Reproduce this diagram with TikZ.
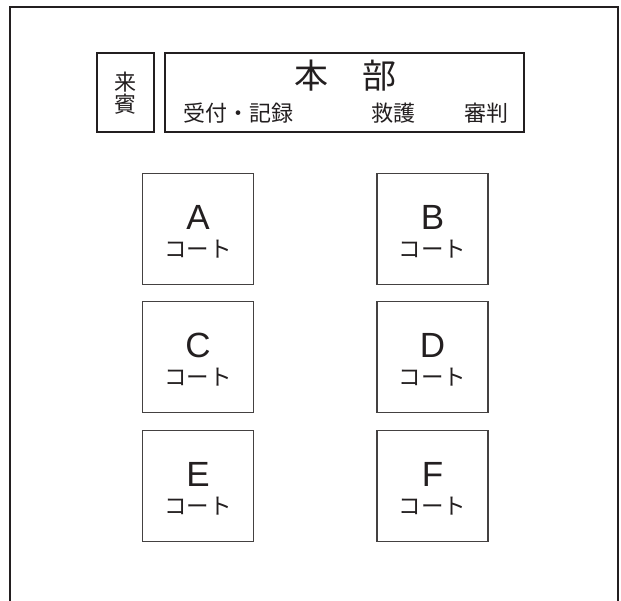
\documentclass[tikz,border=0pt]{standalone}
\usepackage{fontspec}
\setmainfont{Liberation Sans}
\newfontfamily\jp{Noto Sans CJK JP}
\definecolor{ink}{HTML}{231F20}
\begin{document}
\begin{tikzpicture}[x=1pt,y=-1pt,
  frame/.style={draw=ink,line width=2pt},
  hdbox/.style={draw=ink,line width=1.8pt,inner sep=0pt},
  courtbox/.style={draw=ink!85,line width=1.1pt,minimum width=111pt,minimum height=111pt,inner sep=0pt},
  letter/.style={inner sep=0pt,text=ink,font=\fontsize{35}{35}\selectfont},
  kata/.style={inner sep=0pt,text=ink,font=\jp\fontsize{22.5}{22.5}\selectfont},
  hdtext/.style={inner sep=0pt,text=ink,font=\jp\fontsize{22}{22}\selectfont},
  hdtitle/.style={inner sep=0pt,text=ink,font=\jp\fontsize{34}{34}\selectfont}]
\useasboundingbox (0,0) rectangle (621,601);
\coordinate (fbl) at (9.5,601);
\coordinate (ftl) at (9.5,7);
\coordinate (ftr) at (618,7);
\coordinate (fbr) at (618,601);
\draw[frame] (fbl) -- (ftl) -- (ftr) -- (fbr);
% header boxes
\node[hdbox,minimum width=57pt,minimum height=79pt] (guest) at (125.5,92.5) {};
\node[hdbox,minimum width=359pt,minimum height=79pt] (hq) at (344.5,92.5) {};
\node[hdtext,align=center,font=\jp\fontsize{22}{22}\selectfont] (guestlbl) at (125.5,93) {来\\賓};
\node[hdtitle] (hqtitle) at (345,75.5) {本　部};
\node[hdtext] (reception) at (238.5,113) {受付・記録};
\node[hdtext] (firstaid) at (393.5,113) {救護};
\node[hdtext] (referee) at (486,113) {審判};
% courts
\foreach \nm/\cx/\ty in {A/198/173,B/432.5/173,C/198/301,D/432.5/301,E/198/430,F/432.5/430}{
  \node[courtbox] (court\nm) at (\cx,\ty+56) {};
  \node[letter] (letter\nm) at (\cx,\ty+44) {\nm};
  \node[kata] (kata\nm) at (\cx,\ty+76) {コート};
}
\end{tikzpicture}
\end{document}
